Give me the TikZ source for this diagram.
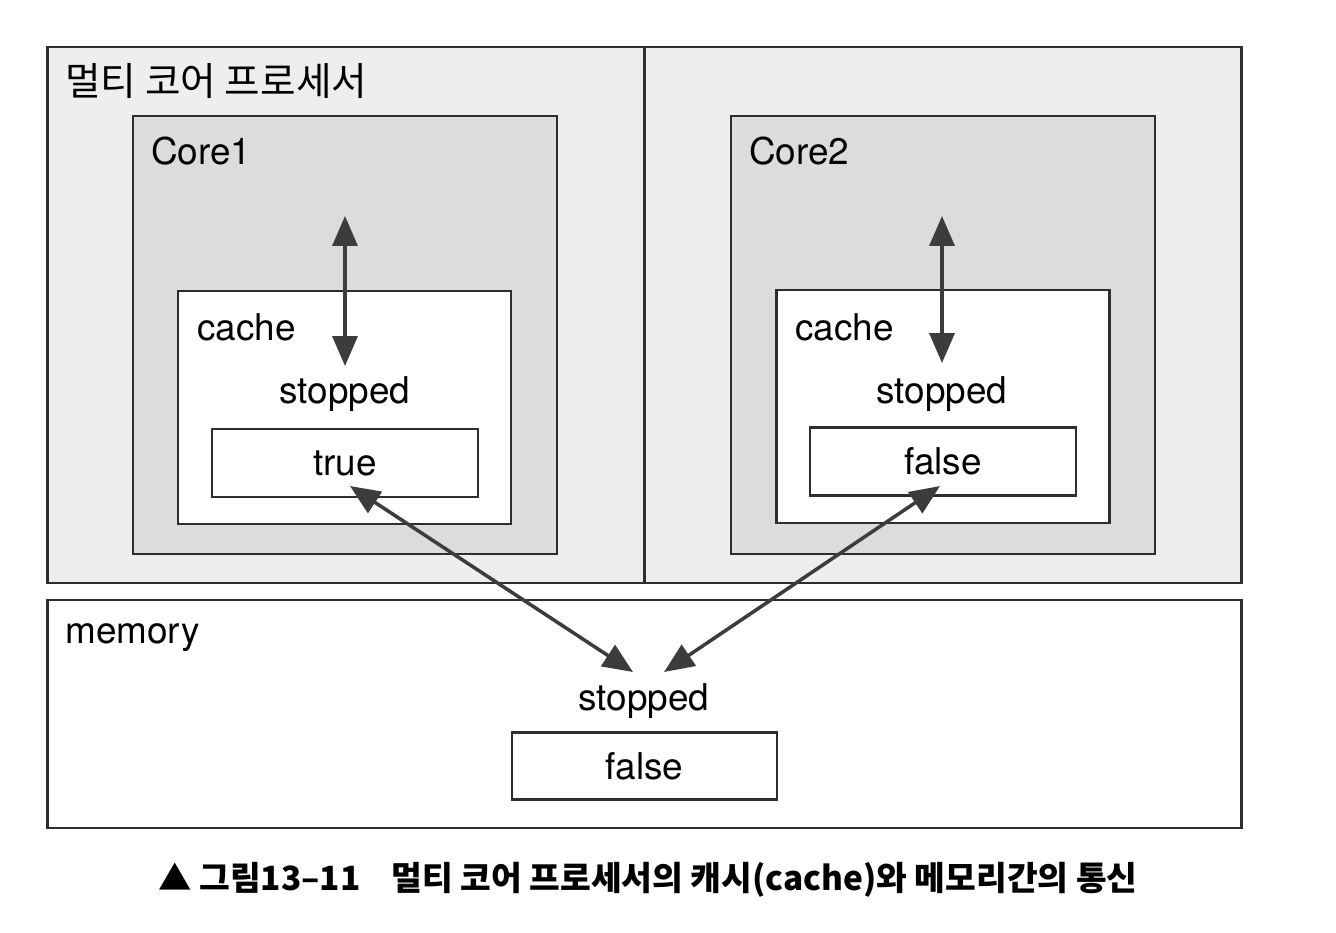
\documentclass[tikz,border=0pt]{standalone}
\usepackage{fontspec}
\setmainfont{TeX Gyre Heros}
\newfontfamily\krfont{Noto Sans CJK KR}
\usepackage{tikz}
\usetikzlibrary{arrows.meta}

\definecolor{linec}{HTML}{2E2E2E}
\definecolor{arrowc}{HTML}{3C3C3C}
\definecolor{procfill}{HTML}{EEEEEE}
\definecolor{corefill}{HTML}{DCDCDC}

\begin{document}
\begin{tikzpicture}[
  x=0.02cm, y=-0.02cm,
  font=\fontsize{21}{25}\selectfont,
  box/.style={draw=linec, line width=1.6pt, inner sep=0pt, outer sep=0pt},
  lbl/.style={inner sep=0pt, anchor=west},
  d/.style={{Triangle[length=0.6cm,width=0.5cm]}-{Triangle[length=0.6cm,width=0.5cm]},
    line width=2pt, draw=arrowc, fill=arrowc}
]
\useasboundingbox (0,0) rectangle (1336,933);
\fill[white] (0,0) rectangle (1336,933);

% processor and cores
\node[box, fill=procfill, minimum width=23.9cm, minimum height=10.72cm] (proc) at (644.5,315) {};
\draw[linec, line width=1.6pt] (proc.north) -- (proc.south);
\node[lbl] (title) at (65,81) {\krfont\fontsize{22}{26}\selectfont 멀티 코어 프로세서};

\node[box, fill=corefill, minimum width=8.48cm, minimum height=8.76cm] (c1) at (345,335) {};
\node[box, fill=corefill, minimum width=8.48cm, minimum height=8.76cm] (c2) at (943,335) {};
\node[lbl] (c1t) at (151,151) {Core1};
\node[lbl] (c2t) at (749,151) {Core2};

\node[box, fill=white, minimum width=6.66cm, minimum height=4.66cm] (ca1) at (344.5,407.5) {};
\node[box, fill=white, minimum width=6.66cm, minimum height=4.66cm] (ca2) at (943,406.5) {};
\node[lbl] (ca1t) at (197,327) {cache};
\node[lbl] (ca2t) at (795,327) {cache};
\node (s1) at (345,394) {stopped};
\node (s2) at (942,394) {stopped};
\node[box, fill=white, minimum width=5.32cm, minimum height=1.36cm] (v1) at (345,463) {true};
\node[box, fill=white, minimum width=5.32cm, minimum height=1.36cm] (v2) at (943,461.5) {false};

% memory
\node[box, fill=white, minimum width=23.9cm, minimum height=4.56cm] (mem) at (644.5,714) {};
\node[lbl] (memt) at (65,638) {memory};
\node (ms) at (644,701) {stopped};
\node[box, fill=white, minimum width=5.3cm, minimum height=1.34cm] (mv) at (644.5,766) {false};

% connectors
\coordinate (u1) at (345,216);
\coordinate (b1) at (345,366);
\coordinate (u2) at (942,216);
\coordinate (b2) at (942,363);
\coordinate (t1) at (350,486);
\coordinate (t2) at (940,486);
\coordinate (m1) at (633,672);
\coordinate (m2) at (664,672);
\draw[d] (u1) -- (b1);
\draw[d] (u2) -- (b2);
\draw[d] (t1) -- (m1);
\draw[d] (t2) -- (m2);

% caption
\node (cap) at (648,880) {\krfont\bfseries\fontsize{19}{22}\selectfont ▲ 그림13–11\hspace{0.7em} 멀티 코어 프로세서의 캐시(cache)와 메모리간의 통신};
\end{tikzpicture}
\end{document}
